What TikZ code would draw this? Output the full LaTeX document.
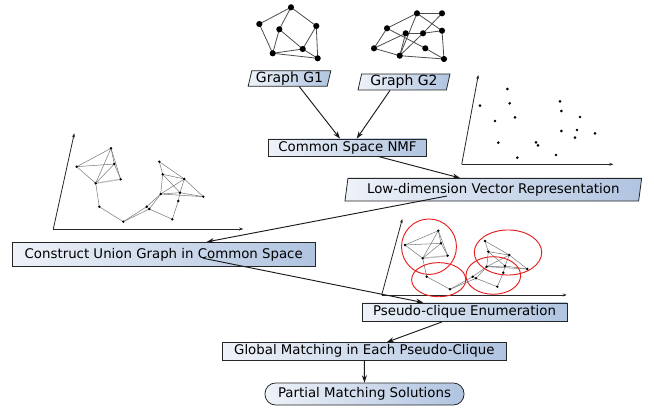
\documentclass[tikz,border=0pt]{standalone}
\usepackage{fontspec}
\setmainfont{DejaVu Sans}
\usetikzlibrary{shapes.geometric,arrows.meta,calc}
\definecolor{boxL}{RGB}{238,242,249}
\definecolor{boxR}{RGB}{176,196,224}
\definecolor{edgegray}{RGB}{125,125,125}
\definecolor{ringred}{RGB}{230,30,30}

\begin{document}
\begin{tikzpicture}[x=0.75pt,y=-0.75pt,
  box/.style={draw=black!85, line width=0.6pt, left color=boxL, right color=boxR,
              inner sep=0pt, font=\fontsize{10}{12}\selectfont},
  slantbox/.style={box, trapezium, trapezium stretches body,
              trapezium left angle=75, trapezium right angle=105},
  flowarrow/.style={-{Stealth[length=5.5pt,width=3.8pt]}, line width=0.7pt, black!90},
  axisline/.style={-{Stealth[length=3pt,width=2.2pt]}, line width=0.6pt, black!85},
  graphedge/.style={edgegray, line width=0.4pt},
  bigedge/.style={black!70, line width=0.6pt},
  ring/.style={ringred, line width=0.7pt}
]
\useasboundingbox (0,0) rectangle (654,410);

% ---------- input graphs ----------
\foreach \n/\x/\y in {a/291/7.3, b/259.3/24, c/279.3/29.3, d/316.3/26,
                      e/302.7/49, f/272.7/53.3, g/317.7/58.3}
  \coordinate (g1-\n) at (\x,\y);
\foreach \a/\b in {a/b, a/c, a/d, b/f, c/f, c/e, d/e, d/g, e/f, e/g, f/g}
  \draw[bigedge] (g1-\a) -- (g1-\b);
\foreach \n in {a,b,c,d,e,f,g}
  \fill (g1-\n) circle[radius=2.3pt];

\foreach \n/\x/\y in {a/417/13.3, b/442/13.3, c/387/28.3, d/405.7/33.3, e/423/33.3,
                      f/442/30.7, g/374/48.3, h/399.7/55.7, i/425.3/48.3, j/444/59}
  \coordinate (g2-\n) at (\x,\y);
\foreach \a/\b in {a/b, a/c, a/h, a/f, b/e, c/g, c/i, d/g, d/h, d/e, e/f, e/h,
                   f/j, g/h, h/j, i/j}
  \draw[bigedge] (g2-\a) -- (g2-\b);
\foreach \n in {a,b,c,d,e,f,g,h,i,j}
  \fill (g2-\n) circle[radius=2.3pt];

% ---------- scatter of the embedded vertices ----------
\coordinate (s-o) at (461.7,164.3);
\coordinate (s-y) at (478.3,75);
\coordinate (s-x) at (613.3,164.3);
\draw[axisline] (s-o) -- (s-y);
\draw[axisline] (s-o) -- (s-x);
\foreach \x/\y in {480/105.7, 507.3/89, 509.7/103.3, 495/121, 515/117.3, 498.3/142.7,
                   517.3/157.7, 536/142.3, 538/145.3, 556/155, 560/101.3, 561.3/111,
                   580/117, 561.3/131, 577/130, 575/137.7, 595/133.3}
  \fill (\x,\y) circle[radius=1.1pt];

% ---------- union graph in the common space ----------
\coordinate (u-o) at (53.3,229);
\coordinate (u-y) at (74.3,133.3);
\coordinate (u-x) at (243.3,229);
\draw[axisline] (u-o) -- (u-y);
\draw[axisline] (u-o) -- (u-x);
\foreach \n/\x/\y in {A/111/148.3, B/76.7/166.7, C/114.3/164, D/95.7/183.3, E/120.7/179.3,
                      F/99.3/206.7, G/123.3/221.7, H/146.7/206.7, I/149.3/209,
                      J/159.3/161.7, K/162.7/174.3, L/184.3/179, M/160.7/194,
                      N/180/192.7, O/178.3/201, P/203.3/196.7, Q/172.3/219.3}
  \coordinate (u-\n) at (\x,\y);
\draw[black!25, line width=1pt] (u-D) -- (u-E);
\foreach \a/\b in {A/B, A/C, A/D, A/E, B/C, B/D, C/D, C/E, D/F, F/G, G/H, G/I, H/I,
                   H/M, I/M, I/Q, J/K, J/L, K/L, K/M, K/N, L/M, L/N, L/P, M/N, M/P,
                   N/O, N/P, O/Q}
  \draw[graphedge] (u-\a) -- (u-\b);
\foreach \n in {A,B,C,D,E,F,G,H,I,J,K,L,M,N,O,P,Q}
  \fill (u-\n) circle[radius=1pt];

% ---------- pseudo-cliques ----------
\coordinate (p-o) at (381.7,295);
\coordinate (p-y) at (402.3,219);
\coordinate (p-x) at (566.7,295);
\draw[axisline] (p-o) -- (p-y);
\draw[axisline] (p-o) -- (p-x);
\foreach \n/\x/\y in {A/438.3/230.7, B/405/245, C/441/243.3, D/422.7/258.3, E/447.7/255.7,
                      F/426.7/276.7, G/450/289.3, H/472.7/276.7, I/476/278.3,
                      J/485/241, K/488.3/251.7, L/509.3/255, M/486.7/266.7,
                      N/505/266, O/503.3/272.7, P/527.3/269, Q/497.3/286.7}
  \coordinate (p-\n) at (\x,\y);
\draw[black!25, line width=1pt] (p-D) -- (p-E);
\foreach \a/\b in {A/B, A/C, A/D, A/E, B/C, B/D, C/D, C/E, D/F, F/G, G/H, G/I, H/I,
                   H/M, I/M, I/Q, J/K, J/L, K/L, K/M, K/N, L/M, L/N, L/P, M/N, M/P,
                   N/O, N/P, O/Q}
  \draw[graphedge] (p-\a) -- (p-\b);
\foreach \n in {A,B,C,D,E,F,G,H,I,J,K,L,M,N,O,P,Q}
  \fill (p-\n) circle[radius=1pt];
\draw[ring] (429,246.7) ellipse [x radius=20.6pt, y radius=20.8pt];
\draw[ring] (438.7,279.7) ellipse [x radius=20.3pt, y radius=12.8pt];
\draw[ring] (493.3,275.5) ellipse [x radius=20.5pt, y radius=14.1pt];
\draw[ring] (508,252.5) ellipse [x radius=25.3pt, y radius=16.9pt];

% ---------- processing steps ----------
\node[slantbox, minimum width=62pt, minimum height=11.6pt, font=\fontsize{10.5}{12.5}\selectfont]
  (g1) at (289.5,78.5) {Graph G1};
\node[slantbox, minimum width=69pt, minimum height=12pt, font=\fontsize{10.5}{12.5}\selectfont]
  (g2) at (404,82) {Graph G2};
\node[box, minimum width=118.8pt, minimum height=12.75pt] (nmf) at (347.5,147.5) {Common Space NMF};
\node[slantbox, trapezium left angle=77, trapezium right angle=103,
      minimum width=222.5pt, minimum height=17pt] (low) at (493.3,189.7)
  {Low-dimension Vector Representation};
\node[box, minimum width=227pt, minimum height=18.3pt] (union) at (163.7,254.5)
  {Construct Union Graph in Common Space};
\node[box, minimum width=153.8pt, minimum height=14pt] (pseudo) at (464.5,312.3)
  {Pseudo-clique Enumeration};
\node[box, minimum width=212.5pt, minimum height=13pt] (global) at (364.3,351.3)
  {Global Matching in Each Pseudo-Clique};
\node[box, rounded corners=8pt, minimum width=149.3pt, minimum height=16.5pt] (partial)
  at (364.5,394) {Partial Matching Solutions};

% ---------- flow ----------
\draw[flowarrow] ($(g1.south)+(9.8,0)$) -- ($(nmf.north)+(-7.5,0)$);
\draw[flowarrow] ($(g2.south)+(-14,0)$) -- ($(nmf.north)+(9.2,0)$);
\draw[flowarrow] ($(nmf.south)+(30.5,0)$) -- ($(low.north)+(-33.3,0)$);
\draw[flowarrow] ($(low.center)+(-46.3,6.3)$) -- ($(union.north)+(43,0)$);
\draw[flowarrow] ($(union.center)+(39.6,3.8)$) -- ($(pseudo.north)+(-41.2,0)$);
\draw[flowarrow] ($(pseudo.south)+(-22.8,0)$) -- ($(global.north)+(22.4,0)$);
\draw[flowarrow] (global.south) -- (partial.north);
\end{tikzpicture}
\end{document}
